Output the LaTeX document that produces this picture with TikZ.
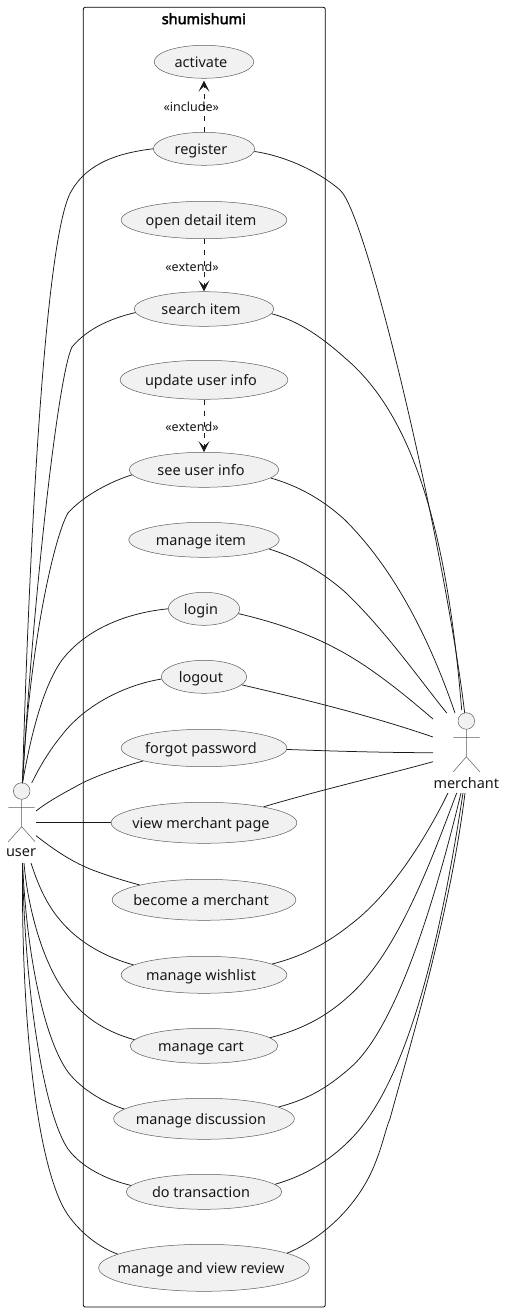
\documentclass[tikz,border=0pt]{standalone}
\usepackage{fontspec}
\setmainfont{Noto Sans}
\usetikzlibrary{arrows.meta,shapes.geometric}
\definecolor{ucfill}{HTML}{F1F1F1}
\definecolor{ink}{HTML}{181818}
\newfontfamily\titlefont[FakeBold=2.6]{Noto Sans}
\tikzset{
  x=1bp,y=-1bp,
  uc/.style={ellipse,draw=ink!70,line width=0.5bp,fill=ucfill,inner sep=0pt,font=\fontsize{14.5}{16}\selectfont,text=ink},
  link/.style={draw=ink,line width=0.75bp},
  dep/.style={draw=ink,line width=0.75bp,dash pattern=on 5.5bp off 5.5bp,-{Stealth[length=11bp,width=11bp,inset=5.5bp]}},
  stereo/.style={font=\fontsize{12.6}{14}\selectfont,text=ink,inner sep=0pt},
  limb/.style={draw=ink!70,line width=0.5bp},
  head/.style={circle,draw=ink!70,line width=0.5bp,fill=ucfill,inner sep=0pt,minimum size=16.6bp},
  actorname/.style={font=\fontsize{14.5}{16}\selectfont,text=ink,inner sep=0pt},
}
\newcommand{\uclabel}[1]{\makebox[0pt][c]{\kern-6bp\smash{\raisebox{-5.8bp}{#1}}}}
\begin{document}
\begin{tikzpicture}
\useasboundingbox (0,0) rectangle (505,1312);
\fill[white] (0,0) rectangle (505,1312);
\draw[black,line width=0.8bp,rounded corners=2bp] (83.3,7.3) rectangle (325.3,1307);
\node[font=\titlefont\fontsize{14.5}{16}\selectfont,inner sep=0pt] (title) at (203.8,18.7) {shumishumi};

\node[uc,minimum width=99.7bp,minimum height=33bp] (act) at (204,61.8) {\uclabel{activate}};
\node[uc,minimum width=101.4bp,minimum height=33bp] (reg) at (204,148.8) {\uclabel{register}};
\node[uc,minimum width=165.7bp,minimum height=37.4bp] (det) at (204,220) {\uclabel{open detail item}};
\node[uc,minimum width=139.7bp,minimum height=34.6bp] (sea) at (204,309) {\uclabel{search item}};
\node[uc,minimum width=167.7bp,minimum height=39bp] (upd) at (204,379.8) {\uclabel{update user info}};
\node[uc,minimum width=149.7bp,minimum height=35bp] (see) at (204,469.8) {\uclabel{see user info}};
\node[uc,minimum width=150.7bp,minimum height=35bp] (itm) at (204,539.8) {\uclabel{manage item}};
\node[uc,minimum width=71.4bp,minimum height=33bp] (lgi) at (204,608.8) {\uclabel{login}};
\node[uc,minimum width=85.4bp,minimum height=33bp] (lgo) at (204,676.8) {\uclabel{logout}};
\node[uc,minimum width=165.7bp,minimum height=37.4bp] (fgt) at (204,748) {\uclabel{forgot password}};
\node[uc,minimum width=185.7bp,minimum height=41bp] (vmp) at (204,822.8) {\uclabel{view merchant page}};
\node[uc,minimum width=183.7bp,minimum height=41bp] (bec) at (204,899.8) {\uclabel{become a merchant}};
\node[uc,minimum width=165.7bp,minimum height=37bp] (wsh) at (204,974.8) {\uclabel{manage wishlist}};
\node[uc,minimum width=147.7bp,minimum height=35bp] (crt) at (204,1045.8) {\uclabel{manage cart}};
\node[uc,minimum width=180.7bp,minimum height=41bp] (dsc) at (204,1118.8) {\uclabel{manage discussion}};
\node[uc,minimum width=155.7bp,minimum height=35bp] (trn) at (204,1191.8) {\uclabel{do transaction}};
\node[uc,minimum width=210.7bp,minimum height=47bp] (rev) at (204,1267.8) {\uclabel{manage and view review}};

% user actor
\node[head] (uh) at (21.7,791) {};
\coordinate (ua) at (8.3,807.3);
\coordinate (ub) at (34.7,807.3);
\coordinate (uc) at (21.7,826.7);
\coordinate (ul) at (8.3,841.7);
\coordinate (ur) at (35,841.7);
\draw[limb] (uh.south) -- (uc) (ua) -- (ub) (ul) -- (uc) -- (ur);
\node[actorname] (user) at (21,853) {user};
% merchant actor
\node[head] (mh) at (466.3,721) {};
\coordinate (ma) at (453.3,737.3);
\coordinate (mb) at (479.7,737.3);
\coordinate (mc) at (466.3,756.7);
\coordinate (ml) at (453.3,771.7);
\coordinate (mr) at (479.7,771.7);
\draw[limb] (mh.south) -- (mc) (ma) -- (mb) (ml) -- (mc) -- (mr);
\node[actorname] (merchant) at (466.3,783) {merchant};

% dependencies
\draw[dep] (reg.north) -- ([yshift=-2bp]act.south);
\draw[dep] (det.south) -- (sea.north);
\draw[dep] (upd.south) -- (see.north);
\node[stereo] (inc) at (191.3,106.7) {«include»};
\node[stereo] (ex1) at (192,266.7) {«extend»};
\node[stereo] (ex2) at (192,426.7) {«extend»};

% free ends near the actors
\coordinate (ut) at (22.5,783);
\coordinate (ub2) at (22.5,863);
\coordinate (mt) at (464.7,713);
\coordinate (mb2) at (465,793);

% user side
\draw[link] (reg.180) .. controls (118,153) and (88,163) .. (72,190) .. controls (42,235) and (27,620) .. (ut);
\draw[link] (sea.183) .. controls (112,318) and (88,328) .. (72,347) .. controls (58,375) and (33,600) .. (ut);
\draw[link] (see.184) .. controls (112,481) and (84,495) .. (68,513) .. controls (55,535) and (30,640) .. (ut);
\draw[link] (lgi.180) .. controls (125,613) and (85,630) .. (62,660) .. controls (42,688) and (30,740) .. (ut);
\coordinate (u5) at (31.7,783);
\draw[link] (lgo.183) .. controls (125,685) and (85,705) .. (62,735) .. controls (48,752) and (38,770) .. (u5);
\coordinate (u6) at (36,811);
\draw[link] (fgt.192) .. controls (118,768) and (90,778) .. (75,787) .. controls (60,795) and (46,803) .. (u6);
\coordinate (u7) at (36,822.8);
\draw[link] (u7) -- (vmp.180);
\coordinate (u8) at (36,835.7);
\draw[link] (u8) .. controls (52,848) and (72,863) .. (98,872) .. controls (112,877) and (125,881) .. (bec.167);
\coordinate (u9) at (31,863);
\draw[link] (u9) .. controls (38,885) and (47,905) .. (60,920) .. controls (78,942) and (105,957) .. (wsh.172);
\coordinate (u10) at (24,863);
\draw[link] (u10) .. controls (27,900) and (40,960) .. (67,995) .. controls (85,1020) and (110,1033) .. (crt.175);
\draw[link] (ub2) .. controls (27,960) and (45,1040) .. (68,1072) .. controls (82,1090) and (105,1103) .. (dsc.173);
\draw[link] (ub2) .. controls (25,1000) and (45,1115) .. (68,1149) .. controls (82,1168) and (108,1180) .. (trn.175.4);
\draw[link] (ub2) .. controls (21,1040) and (40,1175) .. (68,1215) .. controls (80,1232) and (98,1247) .. (rev.171.5);

% merchant side
\draw[link] (reg.357) .. controls (285,156) and (318,171) .. (340,190) .. controls (368,215) and (445,550) .. (mt);
\coordinate (m2) at (461.7,710);
\draw[link] (sea.356) .. controls (300,321) and (325,340) .. (345,358) .. controls (425,425) and (450,570) .. (m2);
\coordinate (m3) at (455,713);
\draw[link] (see.353) .. controls (295,485) and (320,497) .. (345,520) .. controls (395,570) and (430,640) .. (m3);
\coordinate (m4) at (446.7,713);
\draw[link] (itm.352) .. controls (295,557) and (320,570) .. (345,592) .. controls (385,630) and (420,680) .. (m4);
\coordinate (m5) at (433,719);
\draw[link] (lgi.352) .. controls (270,621) and (305,632) .. (335,648) .. controls (370,666) and (405,695) .. (m5);
\coordinate (m6) at (433,737);
\draw[link] (lgo.348.4) .. controls (285,695) and (360,712) .. (m6);
\coordinate (m7) at (433,752.7);
\draw[link] (fgt.359) .. controls (330,751) and (385,752.7) .. (m7);
\coordinate (m8) at (433,761.7);
\draw[link] (vmp.15) .. controls (320,790) and (385,775) .. (m8);
\coordinate (m9) at (448,793);
\draw[link] (wsh.9) .. controls (300,957) and (325,945) .. (350,925) .. controls (390,895) and (425,840) .. (m9);
\coordinate (m10) at (456.7,793);
\draw[link] (crt.7) .. controls (300,1030) and (325,1018) .. (350,995) .. controls (400,950) and (435,850) .. (m10);
\coordinate (m11) at (461,793);
\draw[link] (dsc.9) .. controls (305,1100) and (325,1090) .. (350,1068) .. controls (400,1025) and (440,880) .. (m11);
\coordinate (m12) at (463,793);
\draw[link] (trn.6.5) .. controls (300,1177) and (325,1165) .. (350,1140) .. controls (410,1080) and (442,930) .. (m12);
\draw[link] (rev.10.5) .. controls (315,1242) and (350,1215) .. (370,1175) .. controls (382,1150) and (385,1130) .. (390,1118.7) .. controls (410,1045) and (450,915) .. (mb2);
\end{tikzpicture}
\end{document}
